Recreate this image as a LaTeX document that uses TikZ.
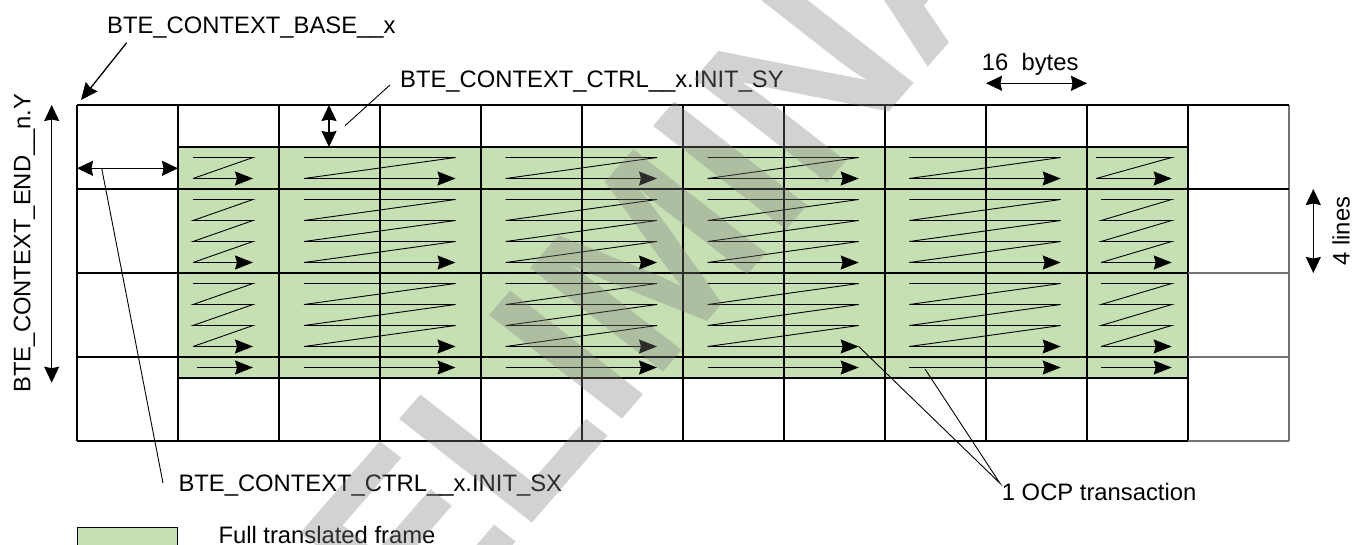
\documentclass[tikz,border=0pt]{standalone}
\usepackage{fontspec}
\setmainfont{Liberation Sans}
\usetikzlibrary{arrows.meta}
\definecolor{framegreen}{RGB}{198,224,180}
\begin{document}
\begin{tikzpicture}[x=1pt,y=-1pt,
  lbl/.style={inner sep=0pt, font=\fontsize{23.8}{28}\selectfont},
  gridline/.style={line width=1.1pt},
  zl/.style={line width=0.9pt},
  zz/.style={line width=1.1pt, -{Stealth[length=18pt,width=14pt,inset=2pt]}},
  dbl/.style={line width=1.3pt, {Stealth[length=16pt,width=15pt,inset=1.5pt]}-{Stealth[length=16pt,width=15pt,inset=1.5pt]}},
  ldr/.style={line width=0.9pt},
  wm/.style={inner sep=0pt, transform shape, font=\fontsize{100}{100}\selectfont\bfseries, text=black!50, text opacity=0.35}
]
\useasboundingbox (0,0) rectangle (1353,544);
\clip (0,0) rectangle (1353,544);
\fill[white] (0,0) rectangle (1353,544);

% green frame area
\fill[framegreen] (178,147) rectangle (1188,378);

% grid
\foreach \i in {0,...,11} \draw[gridline] ({77+101*\i},105) -- ({77+101*\i},441);
\draw[gridline, black!55] (1289,105) -- (1289,441);
\foreach \j in {0,...,4} \draw[gridline] (77,{105+84*\j}) -- (1188,{105+84*\j});
\draw[gridline] (1188,105) -- (1289,105);
\draw[gridline] (1188,189) -- (1289,189);
\draw[gridline, black!55] (1188,273) -- (1289,273);
\draw[gridline, black!55] (1188,357) -- (1289,357);
\draw[gridline, black!55] (1188,441) -- (1289,441);
\draw[gridline] (178,147) -- (1188,147);
\draw[gridline] (178,378) -- (1188,378);

% zigzag transactions
\foreach \xl/\xa/\xd/\xr in {193/193/197/253, 304/304/304/455.5, 505.7/505.7/505.7/657, 707.7/707.7/707.7/858.7, 909.3/909.3/909.3/1060.7, 1101/1096/1101/1171.7} {
  \draw[zl] (\xa,157.5) -- (\xr,157.5) -- (\xa,178.5);
  \draw[zz] (\xa,178.5) -- (\xr,178.5);
  \foreach \yb in {199.5,283.5} {
    \draw[zl] (\xl,\yb) -- (\xr,\yb) -- (\xl,\yb+21) -- (\xr,\yb+21) -- (\xl,\yb+42) -- (\xr,\yb+42) -- (\xl,\yb+63);
    \draw[zz] (\xl,\yb+63) -- (\xr,\yb+63);
  }
  \draw[zz] (\xd,367.5) -- (\xr,367.5);
}

% labels
\node[lbl, anchor=base west] (base) at (107,33.3) {BTE\_CONTEXT\_BASE\_\_x};
\node[lbl, anchor=base west] (initsy) at (400,87.3) {BTE\_CONTEXT\_CTRL\_\_x.INIT\_SY};
\node[lbl, anchor=base west] (initsx) at (178.3,491.7) {BTE\_CONTEXT\_CTRL\_\_x.INIT\_SX};
\node[lbl, anchor=base west] (bytes) at (981.7,70.7) {16\ \ bytes};
\node[lbl, anchor=base, rotate=90] (lines) at (1349.5,231) {4 lines};
\node[lbl, anchor=base, rotate=90] (endy) at (30.5,243) {BTE\_CONTEXT\_END\_\_n.Y};
\node[lbl, anchor=base west] (ocp) at (1001.7,500.7) {1 OCP transaction};
\node[lbl, anchor=base west] (full) at (218.3,543) {Full translated frame};

% legend box
\node[draw, line width=1pt, fill=framegreen, minimum width=100pt, minimum height=40pt, anchor=north west, inner sep=0pt] (legend) at (77,526.7) {};

% coordinates for connectors
\coordinate (baseS) at (126.7,42.7);
\coordinate (baseT) at (81,100);
\coordinate (syTop) at (329,105);
\coordinate (syBot) at (329,147);
\coordinate (syS) at (390,85);
\coordinate (syT) at (345,125.7);
\coordinate (sxL) at (77,168.3);
\coordinate (sxR) at (178,168.3);
\coordinate (sxS) at (101.7,168.3);
\coordinate (sxT) at (163,483);
\coordinate (endTop) at (51.7,105);
\coordinate (endBot) at (51.7,382.7);
\coordinate (byL) at (986,83.3);
\coordinate (byR) at (1087,83.3);
\coordinate (lnTop) at (1313.3,189);
\coordinate (lnBot) at (1313.3,273);
\coordinate (ocpA) at (1000,483.3);
\coordinate (ocpT1) at (858.7,346.5);
\coordinate (ocpT2) at (925,369);

% connectors
\draw[ldr, line width=1.3pt, -{Stealth[length=17pt,width=15pt,inset=1.5pt]}] (baseS) -- (baseT);
\draw[dbl] (syTop) -- (syBot);
\draw[ldr] (syS) -- (syT);
\draw[dbl] (sxL) -- (sxR);
\draw[ldr] (sxS) -- (sxT);
\draw[dbl, line width=1.5pt] (endTop) -- (endBot);
\draw[dbl] (byL) -- (byR);
\draw[dbl] (lnTop) -- (lnBot);
\draw[ldr] (ocpT1) -- (ocpA) -- (ocpT2);

% watermark (skewed, rotated text)
\begin{scope}[shift={(533,522)}]
  \begin{scope}[cm={1.476,1.698,-1.931,1.508,(0pt,0pt)}]
    \node[wm, anchor=base west] (wmR) at (-7.3,0) {LIMINARY};
    \node[wm, anchor=base east] (wmL) at (-7.3,0) {PRE};
  \end{scope}
\end{scope}
\end{tikzpicture}
\end{document}
